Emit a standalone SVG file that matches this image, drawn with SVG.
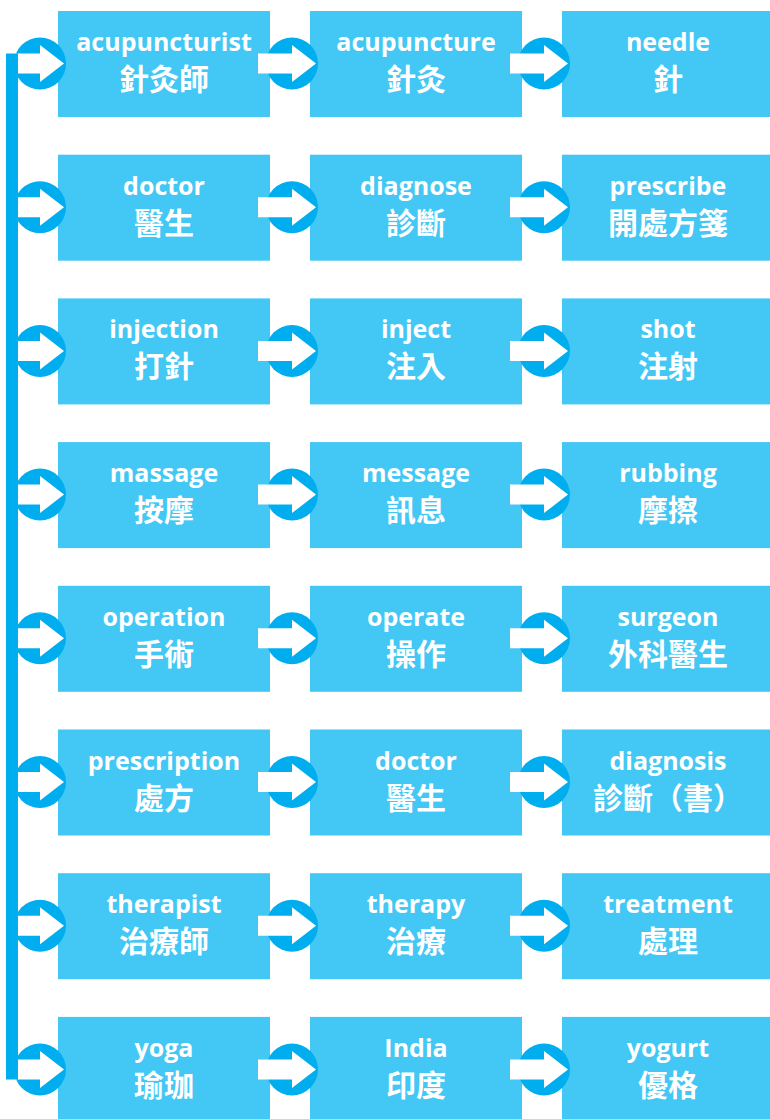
<svg xmlns="http://www.w3.org/2000/svg" xmlns:xlink="http://www.w3.org/1999/xlink" width="770" height="1119" viewBox="0 0 770 1119">
<style>
.box{fill:#43C7F4}
.en{font-family:"Open Sans","DejaVu Sans",sans-serif;font-weight:bold;font-size:25px;fill:#fff;text-anchor:middle}
.zh{font-family:"Noto Sans CJK TC","Noto Sans CJK SC",sans-serif;font-weight:bold;font-size:30px;fill:#fff;text-anchor:middle}
.ring{fill:#00AEEF}
.arr{fill:#fff}
.line{fill:#00AEEF}
</style>
<defs>
<g id="conn">
<circle class="ring" cx="0" cy="0" r="26"/>
<polygon class="arr" points="-34,-10 0,-10 0,-18.5 24,0 0,18.5 0,10 -34,10"/>
</g>
</defs>
<rect width="770" height="1119" fill="#fff"/>
<g id="nodes">
<g id="n0_0"><rect class="box" x="58" y="11" width="212" height="106"/><text class="en" x="164" y="51">acupuncturist</text><text class="zh" x="164" y="90">針灸師</text></g>
<g id="n0_1"><rect class="box" x="310" y="11" width="212" height="106"/><text class="en" x="416" y="51">acupuncture</text><text class="zh" x="416" y="90">針灸</text></g>
<g id="n0_2"><rect class="box" x="562" y="11" width="212" height="106"/><text class="en" x="668" y="51">needle</text><text class="zh" x="668" y="90">針</text></g>

<g id="n1_0"><rect class="box" x="58" y="154.7" width="212" height="106"/><text class="en" x="164" y="194.7">doctor</text><text class="zh" x="164" y="233.7">醫生</text></g>
<g id="n1_1"><rect class="box" x="310" y="154.7" width="212" height="106"/><text class="en" x="416" y="194.7">diagnose</text><text class="zh" x="416" y="233.7">診斷</text></g>
<g id="n1_2"><rect class="box" x="562" y="154.7" width="212" height="106"/><text class="en" x="668" y="194.7">prescribe</text><text class="zh" x="668" y="233.7">開處方箋</text></g>

<g id="n2_0"><rect class="box" x="58" y="298.4" width="212" height="106"/><text class="en" x="164" y="338.4">injection</text><text class="zh" x="164" y="377.4">打針</text></g>
<g id="n2_1"><rect class="box" x="310" y="298.4" width="212" height="106"/><text class="en" x="416" y="338.4">inject</text><text class="zh" x="416" y="377.4">注入</text></g>
<g id="n2_2"><rect class="box" x="562" y="298.4" width="212" height="106"/><text class="en" x="668" y="338.4">shot</text><text class="zh" x="668" y="377.4">注射</text></g>

<g id="n3_0"><rect class="box" x="58" y="442.1" width="212" height="106"/><text class="en" x="164" y="482.1">massage</text><text class="zh" x="164" y="521.1">按摩</text></g>
<g id="n3_1"><rect class="box" x="310" y="442.1" width="212" height="106"/><text class="en" x="416" y="482.1">message</text><text class="zh" x="416" y="521.1">訊息</text></g>
<g id="n3_2"><rect class="box" x="562" y="442.1" width="212" height="106"/><text class="en" x="668" y="482.1">rubbing</text><text class="zh" x="668" y="521.1">摩擦</text></g>

<g id="n4_0"><rect class="box" x="58" y="585.8" width="212" height="106"/><text class="en" x="164" y="625.8">operation</text><text class="zh" x="164" y="664.8">手術</text></g>
<g id="n4_1"><rect class="box" x="310" y="585.8" width="212" height="106"/><text class="en" x="416" y="625.8">operate</text><text class="zh" x="416" y="664.8">操作</text></g>
<g id="n4_2"><rect class="box" x="562" y="585.8" width="212" height="106"/><text class="en" x="668" y="625.8">surgeon</text><text class="zh" x="668" y="664.8">外科醫生</text></g>

<g id="n5_0"><rect class="box" x="58" y="729.5" width="212" height="106"/><text class="en" x="164" y="769.5">prescription</text><text class="zh" x="164" y="808.5">處方</text></g>
<g id="n5_1"><rect class="box" x="310" y="729.5" width="212" height="106"/><text class="en" x="416" y="769.5">doctor</text><text class="zh" x="416" y="808.5">醫生</text></g>
<g id="n5_2"><rect class="box" x="562" y="729.5" width="212" height="106"/><text class="en" x="668" y="769.5">diagnosis</text><text class="zh" x="668" y="808.5">診斷（書）</text></g>

<g id="n6_0"><rect class="box" x="58" y="873.2" width="212" height="106"/><text class="en" x="164" y="913.2">therapist</text><text class="zh" x="164" y="952.2">治療師</text></g>
<g id="n6_1"><rect class="box" x="310" y="873.2" width="212" height="106"/><text class="en" x="416" y="913.2">therapy</text><text class="zh" x="416" y="952.2">治療</text></g>
<g id="n6_2"><rect class="box" x="562" y="873.2" width="212" height="106"/><text class="en" x="668" y="913.2">treatment</text><text class="zh" x="668" y="952.2">處理</text></g>

<g id="n7_0"><rect class="box" x="58" y="1016.9" width="212" height="106"/><text class="en" x="164" y="1056.9">yoga</text><text class="zh" x="164" y="1095.9">瑜珈</text></g>
<g id="n7_1"><rect class="box" x="310" y="1016.9" width="212" height="106"/><text class="en" x="416" y="1056.9">India</text><text class="zh" x="416" y="1095.9">印度</text></g>
<g id="n7_2"><rect class="box" x="562" y="1016.9" width="212" height="106"/><text class="en" x="668" y="1056.9">yogurt</text><text class="zh" x="668" y="1095.9">優格</text></g>
</g>
<g id="connectors">
<use xlink:href="#conn" href="#conn" x="40" y="63.5"/><use xlink:href="#conn" href="#conn" x="292" y="63.5"/><use xlink:href="#conn" href="#conn" x="544" y="63.5"/>
<use xlink:href="#conn" href="#conn" x="40" y="207.2"/><use xlink:href="#conn" href="#conn" x="292" y="207.2"/><use xlink:href="#conn" href="#conn" x="544" y="207.2"/>
<use xlink:href="#conn" href="#conn" x="40" y="350.9"/><use xlink:href="#conn" href="#conn" x="292" y="350.9"/><use xlink:href="#conn" href="#conn" x="544" y="350.9"/>
<use xlink:href="#conn" href="#conn" x="40" y="494.6"/><use xlink:href="#conn" href="#conn" x="292" y="494.6"/><use xlink:href="#conn" href="#conn" x="544" y="494.6"/>
<use xlink:href="#conn" href="#conn" x="40" y="638.3"/><use xlink:href="#conn" href="#conn" x="292" y="638.3"/><use xlink:href="#conn" href="#conn" x="544" y="638.3"/>
<use xlink:href="#conn" href="#conn" x="40" y="782"/><use xlink:href="#conn" href="#conn" x="292" y="782"/><use xlink:href="#conn" href="#conn" x="544" y="782"/>
<use xlink:href="#conn" href="#conn" x="40" y="925.7"/><use xlink:href="#conn" href="#conn" x="292" y="925.7"/><use xlink:href="#conn" href="#conn" x="544" y="925.7"/>
<use xlink:href="#conn" href="#conn" x="40" y="1069.4"/><use xlink:href="#conn" href="#conn" x="292" y="1069.4"/><use xlink:href="#conn" href="#conn" x="544" y="1069.4"/>
<rect class="line" x="6" y="53.5" width="12" height="1026"/>
</g>
</svg>
